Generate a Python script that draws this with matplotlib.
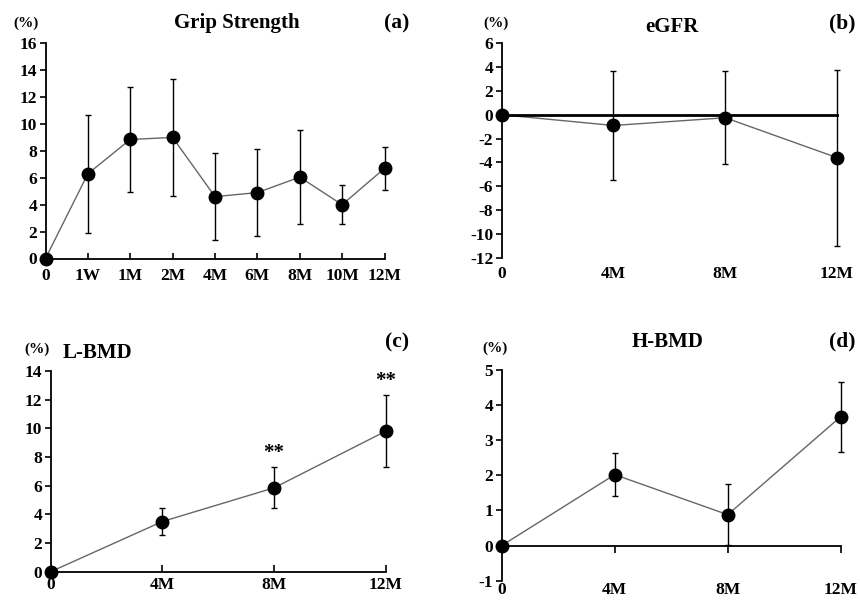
import matplotlib
matplotlib.use("Agg")
import matplotlib.pyplot as plt
import matplotlib.transforms as mtransforms

plt.rcParams['font.family'] = ['Liberation Serif', 'DejaVu Serif']
plt.rcParams['font.weight'] = 'bold'

# ---- data ----
grip_labels = ["0", "1W", "1M", "2M", "4M", "6M", "8M", "10M", "12M"]
grip_values = [0, 6.3, 8.85, 9.0, 4.6, 4.9, 6.05, 4.0, 6.7]
grip_err = [0, 4.37, 3.9, 4.35, 3.25, 3.25, 3.5, 1.45, 1.6]

short_labels = ["0", "4M", "8M", "12M"]
egfr_values = [0, -0.9, -0.25, -3.6]
egfr_err = [0, 4.57, 3.9, 7.4]

lbmd_values = [0, 3.5, 5.85, 9.8]
lbmd_err = [0, 0.93, 1.43, 2.53]
lbmd_sig = ["", "", "**", "**"]

hbmd_values = [0, 2.02, 0.88, 3.67]
hbmd_err = [0, 0.61, 0.87, 1.0]

W, H = 860, 605
FS = 12.5
fig = plt.figure(figsize=(W / 100, H / 100), dpi=100)


def px_axes(l, t, r, b):
    return fig.add_axes([l / W, 1 - b / H, (r - l) / W, (b - t) / H])


def style(ax, labels, ylim, yticks):
    ax.set_xlim(0, len(labels) - 1)
    ax.set_ylim(*ylim)
    ax.set_yticks(yticks)
    ax.set_yticklabels([str(v) for v in yticks], fontsize=FS, fontweight='bold')
    ax.spines['top'].set_visible(False)
    ax.spines['right'].set_visible(False)
    ax.spines['left'].set_linewidth(1.3)
    ax.spines['bottom'].set_linewidth(1.3)
    ax.tick_params(axis='y', direction='out', length=4, width=1.2, pad=2)
    ax.set_xticks(range(len(labels)))
    for sp in ax.spines.values():
        sp.set_color('black')


def plot_series(ax, vals, errs):
    x = list(range(len(vals)))
    ax.plot(x, vals, color='#666666', lw=1.0, zorder=2, clip_on=False)
    ax.errorbar(x, vals, yerr=errs, fmt='none', ecolor='black', elinewidth=1.0,
                capsize=2.2, capthick=1.0, zorder=3, clip_on=False)
    ax.plot(x, vals, 'o', color='black', ms=9, zorder=4, clip_on=False)


def low_labels(ax, labels, pad_px):
    ax.set_xticklabels([])
    trans = mtransforms.blended_transform_factory(ax.transData, ax.transAxes)
    off = mtransforms.ScaledTranslation(0, -pad_px / 100, fig.dpi_scale_trans)
    for i, lab in enumerate(labels):
        ax.text(i, 0, lab, transform=trans + off, ha='center', va='top',
                fontsize=FS, fontweight='bold')


# (a) Grip Strength
axa = px_axes(45.5, 43.3, 384.5, 258.5)
style(axa, grip_labels, (0, 16), list(range(0, 17, 2)))
axa.set_xticklabels(grip_labels, fontsize=FS, fontweight='bold')
axa.tick_params(axis='x', direction='in', length=4, width=1.2, pad=7)
plot_series(axa, grip_values, grip_err)

# (b) eGFR
axb = px_axes(501.7, 43.3, 837, 257.7)
style(axb, short_labels, (-12, 6), list(range(-12, 7, 2)))
axb.spines['bottom'].set_position(('data', 0))
axb.spines['bottom'].set_linewidth(2.0)
axb.tick_params(axis='x', length=0)
low_labels(axb, short_labels, 8)
plot_series(axb, egfr_values, egfr_err)

# (c) L-BMD
axc = px_axes(50.7, 371, 385.7, 571.7)
style(axc, short_labels, (0, 14), list(range(0, 15, 2)))
axc.set_xticklabels(short_labels, fontsize=FS, fontweight='bold')
axc.tick_params(axis='x', direction='in', length=5, width=1.2, pad=4)
plot_series(axc, lbmd_values, lbmd_err)
for i, s in enumerate(lbmd_sig):
    if s:
        axc.text(i, lbmd_values[i] + lbmd_err[i] + 1.0, s, ha='center', va='center',
                 fontsize=15, fontweight='bold')

# (d) H-BMD
axd = px_axes(501.7, 370, 840.7, 580.7)
style(axd, short_labels, (-1, 5), list(range(-1, 6)))
axd.spines['bottom'].set_position(('data', 0))
axd.tick_params(axis='x', direction='out', length=5, width=1.2)
low_labels(axd, short_labels, 1)
plot_series(axd, hbmd_values, hbmd_err)

# texts
def ftext(x, y, s, size, ha='center'):
    fig.text(x / W, 1 - y / H, s, ha=ha, va='center', fontsize=size, fontweight='bold')

ftext(26, 23, "(%)", 11)
ftext(237, 23, "Grip Strength", 15)
ftext(397, 23, "(a)", 15.5)
ftext(496, 23, "(%)", 11)
ftext(672, 27, "eGFR", 15)
ftext(842, 23, "(b)", 15.5)
ftext(37, 349, "(%)", 11)
ftext(97, 353, "L-BMD", 15)
ftext(397, 342, "(c)", 15.5)
ftext(495, 348, "(%)", 11)
ftext(668, 342, "H-BMD", 15)
ftext(842, 341, "(d)", 15.5)

fig.savefig("out.png", dpi=100, facecolor='white')
